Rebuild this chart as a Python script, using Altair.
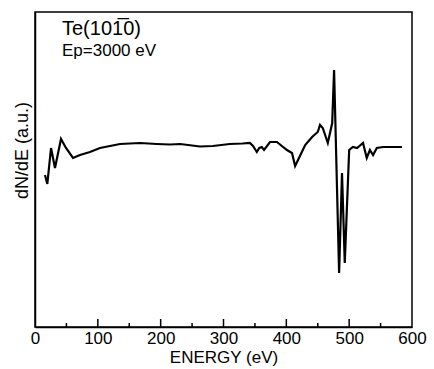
import altair as alt
import pandas as pd

# Spectrum (energy in eV, dN/dE in arbitrary units)
energy = [15.9, 19.6, 25.5, 31.8, 41.4, 49.3, 60.5, 71.6, 87.5, 103.4, 119.4, 135.3,
          167.0, 194.0, 215.0, 231.0, 262.6, 283.0, 310.0, 330.0, 342.0, 347.0, 353.0, 357.0,
          361.0, 364.5, 374.0, 385.0, 401.0, 409.0, 414.0, 418.6, 430.0, 441.0, 450.0,
          453.6, 458.0, 466.0, 473.0, 476.0, 484.0, 488.6, 493.0, 500.0, 506.0, 512.5,
          522.0, 528.0, 533.0, 538.0, 544.0, 554.0, 584.0]
signal = [152, 143, 179, 159, 188, 179, 169, 172, 175, 179, 181, 183,
          184, 183, 182.5, 183, 180.5, 181, 183, 183.5, 184, 181, 175, 179,
          180, 177, 185, 185, 177, 174, 161, 167, 182, 190, 195,
          202, 199, 184, 204, 257, 54, 154, 64, 177, 180, 179,
          184, 169, 177, 172, 179, 180, 180]

major_ticks = [100, 200, 300, 400, 500]
minor_ticks = [50, 150, 250, 350, 450, 550]
x_labels = [0, 100, 200, 300, 400, 500, 600]

FONT = "Liberation Sans"
W, H = 377, 315

df = pd.DataFrame({"E": energy, "S": signal})

xscale = alt.Scale(domain=[0, 600], nice=False, zero=False)
yscale = alt.Scale(domain=[0, 315], nice=False, zero=False)

line = alt.Chart(df).mark_line(color="black", strokeWidth=2.2, interpolate="linear").encode(
    x=alt.X("E:Q", scale=xscale,
            axis=alt.Axis(values=x_labels, title="ENERGY (eV)", ticks=False,
                          labelFlush=False, labelOverlap=False,
                          labelFontSize=17, labelPadding=3, labelColor="black",
                          titleFontSize=17, titleFontWeight="normal", titleColor="black",
                          titlePadding=3, domainColor="black", domainWidth=1.5,
                          grid=False, labelFont=FONT, titleFont=FONT)),
    y=alt.Y("S:Q", scale=yscale,
            axis=alt.Axis(title="dN/dE  (a.u.)", labels=False, ticks=False, grid=False,
                          domainColor="black", domainWidth=1.5,
                          titleFontSize=18, titleFontWeight="normal", titleColor="black",
                          titleFont=FONT, titleX=-13, titleY=138, titleAlign="center",
                          titleBaseline="middle", titleAngle=-90))
)

major = alt.Chart(pd.DataFrame({"t": major_ticks})).mark_rule(color="black", strokeWidth=1.5).encode(
    x=alt.X("t:Q", scale=xscale), y=alt.value(H), y2=alt.value(H - 8))
minor = alt.Chart(pd.DataFrame({"t": minor_ticks})).mark_rule(color="black", strokeWidth=1.5).encode(
    x=alt.X("t:Q", scale=xscale), y=alt.value(H), y2=alt.value(H - 4))

title1 = alt.Chart(pd.DataFrame({"s": ["Te(101\u03050)"]})).mark_text(
    align="left", baseline="alphabetic", fontSize=20, font=FONT, color="black").encode(
    text="s:N", x=alt.value(27), y=alt.value(23))
title2 = alt.Chart(pd.DataFrame({"s": ["Ep=3000 eV"]})).mark_text(
    align="left", baseline="alphabetic", fontSize=17, font=FONT, color="black").encode(
    text="s:N", x=alt.value(27), y=alt.value(44))

chart = alt.layer(line, major, minor, title1, title2).properties(
    width=W, height=H,
    autosize=alt.AutoSizeParams(type="none"),
    padding={"left": 35, "top": 12, "right": 22, "bottom": 42},
    background="white",
).configure_view(stroke="black", strokeWidth=1.5)

chart.save("out.html", embed_options={"renderer": "svg", "actions": False})
